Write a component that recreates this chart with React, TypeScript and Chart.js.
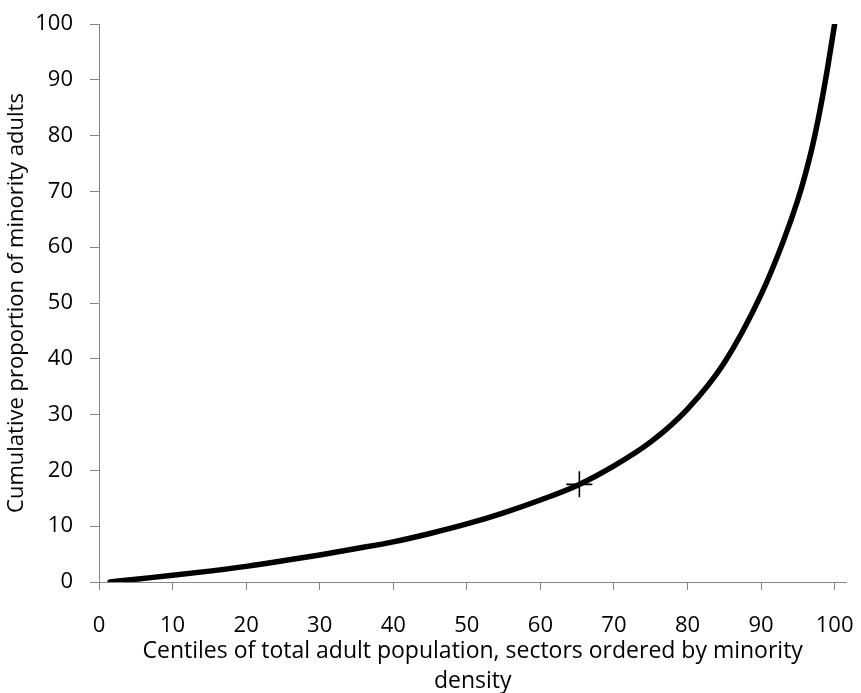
import React, { useEffect, useRef } from "react";
import { Chart, registerables } from "chart.js";

Chart.register(...registerables);

// Curve: centile of adult population (x) vs cumulative proportion of minority adults (y)
const centiles = [1.5, 5, 10, 15, 20, 25, 30, 35, 40, 45, 50, 55, 60, 65, 70, 75, 80, 85, 90, 93, 95, 96, 97, 98, 99, 100];
const cumulativeShare = [0, 0.5, 1.2, 1.95, 2.8, 3.8, 4.85, 6.0, 7.2, 8.7, 10.4, 12.4, 14.7, 17.3, 20.8, 25.1, 31.0, 39.3, 51.5, 61, 68.5, 73, 78.2, 84.5, 91.8, 100];

// Marked point on the curve
const markerX = [65.3];
const markerY = [17.5];

const xTickValues = [0, 10, 20, 30, 40, 50, 60, 70, 80, 90, 100];
const xTitle = ["Centiles of total adult population, sectors ordered by minority", "density"];
const yTitle = "Cumulative proportion of minority adults";

const FONT = "'Open Sans'";
const AXIS_COLOR = "#868686";

export default function App() {
  const ref = useRef<HTMLCanvasElement | null>(null);

  useEffect(() => {
    if (!ref.current) return;
    const curve = centiles.map((x, i) => ({ x, y: cumulativeShare[i] }));
    const marker = markerX.map((x, i) => ({ x, y: markerY[i] }));
    const chart = new Chart(ref.current, {
      type: "line",
      data: {
        datasets: [
          {
            data: marker,
            showLine: false,
            pointStyle: "cross",
            pointRadius: 13,
            pointBorderWidth: 1.6,
            borderColor: "#000",
            backgroundColor: "#000",
            order: 0,
          } as any,
          {
            data: curve,
            borderColor: "#000",
            borderWidth: 5.5,
            pointRadius: 0,
            cubicInterpolationMode: "monotone",
            borderCapStyle: "round",
            borderJoinStyle: "round",
            fill: false,
            order: 1,
          } as any,
        ],
      },
      options: {
        responsive: false,
        animation: false,
        layout: { padding: { top: 24, right: 9, bottom: 0, left: 0 } },
        plugins: { legend: { display: false }, tooltip: { enabled: false } },
        scales: {
          x: {
            type: "linear",
            min: 0,
            max: 101.6,
            afterBuildTicks: (scale: any) => {
              scale.ticks = xTickValues.map((v) => ({ value: v }));
            },
            afterFit: (scale: any) => {
              scale.height = 111;
              scale.paddingLeft = 0;
              scale.paddingRight = 0;
            },
            grid: {
              drawOnChartArea: false,
              drawTicks: true,
              tickLength: 8,
              color: AXIS_COLOR,
              lineWidth: 1,
            },
            border: { color: AXIS_COLOR, width: 1 },
            ticks: {
              font: { family: FONT, size: 22 },
              color: "#000",
              padding: 23,
              maxRotation: 0,
              autoSkip: false,
            },
            title: {
              display: true,
              text: xTitle,
              font: { family: FONT, size: 23, lineHeight: 1.3 },
              color: "#000",
              padding: { top: 0, bottom: -3 },
            },
          },
          y: {
            type: "linear",
            min: 0,
            max: 100,
            afterFit: (scale: any) => {
              scale.width = 99;
              scale.paddingTop = 0;
              scale.paddingBottom = 0;
            },
            grid: {
              drawOnChartArea: false,
              drawTicks: true,
              tickLength: 9,
              color: AXIS_COLOR,
              lineWidth: 1,
            },
            border: { color: AXIS_COLOR, width: 1 },
            ticks: {
              stepSize: 10,
              font: { family: FONT, size: 22 },
              color: "#000",
              padding: 17,
            },
            title: {
              display: true,
              text: yTitle,
              font: { family: FONT, size: 22 },
              color: "#000",
              padding: { top: 4, bottom: 0 },
            },
          },
        },
      },
    });
    return () => chart.destroy();
  }, []);

  return (
    <div style={{ position: "absolute", left: 0, top: 0, width: 861, height: 693 }}>
      <canvas ref={ref} width={861} height={693} style={{ display: "block" }} />
    </div>
  );
}
